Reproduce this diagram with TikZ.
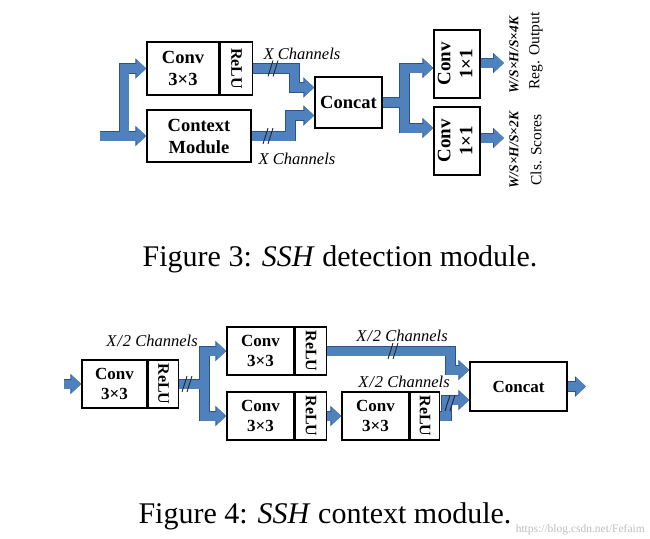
\documentclass[tikz,border=0pt]{standalone}
\usepackage{fontspec}
\setmainfont{Liberation Serif}
\usetikzlibrary{arrows.meta,calc}
\definecolor{bandfill}{RGB}{79,129,189}
\definecolor{bandedge}{RGB}{47,82,143}
\begin{document}
\begin{tikzpicture}[x=1pt,y=-1pt,
  box/.style={draw=black, line width=1.5pt, fill=white, inner sep=0pt, align=center,
    font=\fontsize{18.5}{22}\selectfont\bfseries},
  sbox/.style={box, font=\fontsize{17}{20}\selectfont\bfseries},
  relu/.style={box, font=\fontsize{16}{18}\selectfont\bfseries},
  bandout/.style={line width=10.6pt, draw=bandedge, line join=miter,
    -{Triangle[width=19.8pt,length=11pt]}},
  bandin/.style={line width=9pt, draw=bandfill, line join=miter,
    -{Triangle[width=17.6pt,length=9.8pt]}},
  hashline/.style={draw=black!85, line width=0.9pt},
  hashes/.pic={\draw[hashline] (-4,8) -- (1,-8) (1,8) -- (6,-8);},
  chan/.style={inner sep=0pt, font=\fontsize{16.5}{18}\selectfont\itshape},
  outdim/.style={inner sep=0pt, font=\fontsize{13.5}{16}\selectfont\bfseries\itshape},
  outname/.style={inner sep=0pt, font=\fontsize{15.5}{18}\selectfont},
  caption/.style={inner sep=0pt, font=\fontsize{30}{34}\selectfont},
  wm/.style={inner sep=0pt, text=black!25, font=\fontsize{11.5}{13}\selectfont}
]
\useasboundingbox (0,0) rectangle (650,538);
\fill[white] (0,0) rectangle (650,538);

% ---------------- Figure 3 ----------------
\node[box, minimum width=72, minimum height=53] (c1) at (183,68.5) {Conv\\3×3};
\node[relu, minimum width=32, minimum height=53, anchor=west] (r1) at (c1.east) {\rotatebox{-90}{ReLU}};
\node[box, minimum width=104, minimum height=52] (ctx) at (199,136) {Context\\Module};
\node[box, minimum width=67, minimum height=51] (cat) at (348.5,102.5) {Concat};
\node[box, minimum width=46, minimum height=68, font=\fontsize{19}{22}\selectfont\bfseries] (o1) at (457,64)
  {\rotatebox{90}{\begin{tabular}{@{}c@{}}Conv\\1×1\end{tabular}}};
\node[box, minimum width=46, minimum height=68, font=\fontsize{19}{22}\selectfont\bfseries] (o2) at (457,141)
  {\rotatebox{90}{\begin{tabular}{@{}c@{}}Conv\\1×1\end{tabular}}};
\coordinate (in1) at (100,136);
\coordinate (out1) at (504,63);
\coordinate (out2) at (504,138);

\newcommand\topbands[1]{%
  \draw[#1] (in1) -- (ctx.west);
  \draw[#1] (in1) -- (124,136) |- (c1.west);
  \draw[#1] (r1.east) -- ++(41,0) |- ([yshift=15pt]cat.west);
  \draw[#1] (ctx.east) -- ++(39,0) |- ([yshift=-13pt]cat.west);
  \draw[#1] (cat.east) -- ++(22,0) |- ([yshift=-4pt]o1.west);
  \draw[#1] (cat.east) -- ++(22,0) |- ([yshift=13pt]o2.west);
  \draw[#1] (o1.east |- out1) -- (out1);
  \draw[#1] (o2.east |- out2) -- (out2);
}
\topbands{bandout}
\topbands{bandin}
\pic at (272,68.5) {hashes};
\pic at (267,136) {hashes};

\node[chan] (l1) at (302,54) {X Channels};
\node[chan] (l2) at (297,159) {X Channels};
\node[outdim, rotate=90] (d1) at (514,55) {W/S×H/S×4K};
\node[outname, rotate=90] (n1) at (536,51) {Reg. Output};
\node[outdim, rotate=90] (d2) at (514,150) {W/S×H/S×2K};
\node[outname, rotate=90] (n2) at (536,150) {Cls. Scores};

\node[caption] (cap1) at (340,259) {Figure 3: \textit{SSH} detection module.};

% ---------------- Figure 4 ----------------
\node[sbox, minimum width=65, minimum height=48] (cb) at (114.5,384) {Conv\\3×3};
\node[relu, minimum width=30, minimum height=48, anchor=west] (rb) at (cb.east) {\rotatebox{-90}{ReLU}};
\node[sbox, minimum width=67, minimum height=48] (t) at (260.5,351) {Conv\\3×3};
\node[relu, minimum width=31, minimum height=48, anchor=west] (rt) at (t.east) {\rotatebox{-90}{ReLU}};
\node[sbox, minimum width=67, minimum height=48] (b) at (260.5,416) {Conv\\3×3};
\node[relu, minimum width=31, minimum height=48, anchor=west] (rbb) at (b.east) {\rotatebox{-90}{ReLU}};
\node[sbox, minimum width=67, minimum height=48] (d) at (375.5,416) {Conv\\3×3};
\node[relu, minimum width=29, minimum height=48, anchor=west] (rd) at (d.east) {\rotatebox{-90}{ReLU}};
\node[sbox, minimum width=97, minimum height=49] (cat2) at (518.5,386.5) {Concat};
\coordinate (in2) at (64,384);
\coordinate (out3) at (586,386.5);

\newcommand\botbands[1]{%
  \draw[#1] (in2) -- (cb.west);
  \draw[#1] (rb.east) -- ++(25,0) |- (t.west);
  \draw[#1] (rb.east) -- ++(25,0) |- (b.west);
  \draw[#1] (rbb.east) -- (d.west);
  \draw[#1] (rt.east) -- ++(123,0) |- ([yshift=16.5pt]cat2.west);
  \draw[#1] (rd.east) -- ++(6,0) |- ([yshift=-13.5pt]cat2.west);
  \draw[#1] (cat2.east) -- (out3);
}
\botbands{bandout}
\botbands{bandin}
\pic at (186,384) {hashes};
\pic at (392,351) {hashes};
\pic at (449,403) {hashes};

\node[chan] (l3) at (152,341) {X\kern1pt/\kern1pt2 Channels};
\node[chan] (l4) at (402,336) {X\kern1pt/\kern1pt2 Channels};
\node[chan] (l5) at (404,382) {X\kern1pt/\kern1pt2 Channels};

\node[caption] (cap2) at (325,516) {Figure 4: \textit{SSH} context module.};
\node[wm, anchor=east] (wm) at (645,530) {https://blog.csdn.net/Fefaim};
\end{tikzpicture}
\end{document}
